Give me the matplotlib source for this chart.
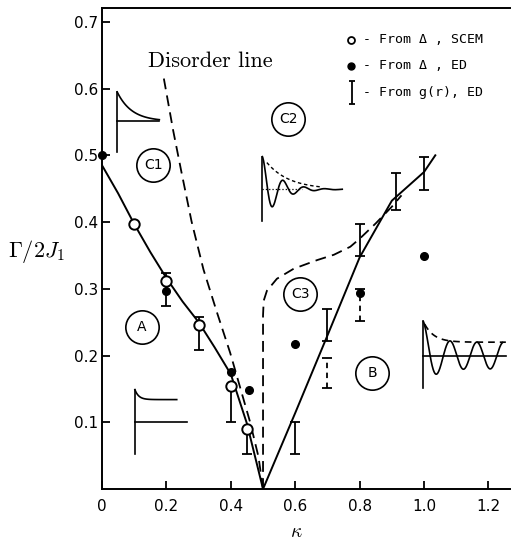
import numpy as np
import matplotlib
matplotlib.use("Agg")
import matplotlib.pyplot as plt

plt.rcParams['font.family'] = ['DejaVu Sans']
plt.rcParams['mathtext.fontset'] = 'cm'

# phase boundaries
left_x = [0.0, 0.05, 0.1, 0.15, 0.2, 0.25, 0.3, 0.35, 0.4, 0.45, 0.5]
left_y = [0.485, 0.443, 0.397, 0.355, 0.316, 0.281, 0.25, 0.212, 0.172, 0.098, 0.0]

right_x = [0.5, 0.6, 0.7, 0.8, 0.9, 1.0, 1.035]
right_y = [0.0, 0.114, 0.23, 0.347, 0.432, 0.475, 0.5]

disorder_x = [0.192, 0.221, 0.247, 0.278, 0.315, 0.356, 0.398, 0.429, 0.46, 0.486, 0.5]
disorder_y = [0.615, 0.537, 0.474, 0.401, 0.329, 0.266, 0.204, 0.152, 0.1, 0.048, 0.0]

c3_x = [0.5, 0.5, 0.502, 0.512, 0.543, 0.595, 0.668, 0.72, 0.771, 0.8, 0.85, 0.9, 0.93]
c3_y = [0.0, 0.26, 0.282, 0.297, 0.315, 0.33, 0.343, 0.351, 0.363, 0.375, 0.398, 0.423, 0.44]

# gap estimates
scem_x = [0.1, 0.2, 0.3, 0.4, 0.45]
scem_y = [0.397, 0.312, 0.246, 0.154, 0.090]

ed_x = [0.0, 0.2, 0.4, 0.455, 0.6, 0.8, 1.0]
ed_y = [0.501, 0.297, 0.175, 0.149, 0.218, 0.293, 0.349]

# g(r) ranges: (kappa, low, high)
gr_solid_x = [0.2, 0.3, 0.4, 0.45, 0.6, 0.7, 0.8, 0.912, 1.0]
gr_solid_lo = [0.274, 0.209, 0.101, 0.053, 0.053, 0.222, 0.349, 0.418, 0.448]
gr_solid_hi = [0.323, 0.257, 0.155, 0.090, 0.100, 0.269, 0.397, 0.473, 0.498]
gr_dash_x = [0.7, 0.8]
gr_dash_lo = [0.152, 0.252]
gr_dash_hi = [0.197, 0.300]

region_names = ['C1', 'C2', 'C3', 'A', 'B']
region_x = [0.159, 0.579, 0.616, 0.123, 0.839]
region_y = [0.486, 0.555, 0.292, 0.243, 0.174]

key_labels = ['- From \u0394 , SCEM', '- From \u0394 , ED', '- From g(r), ED']

xticks = [0, 0.2, 0.4, 0.6, 0.8, 1.0, 1.2]
xtick_labels = ['0', '0.2', '0.4', '0.6', '0.8', '1.0', '1.2']
yticks = [0.1, 0.2, 0.3, 0.4, 0.5, 0.6, 0.7]
ytick_labels = ['0.1', '0.2', '0.3', '0.4', '0.5', '0.6', '0.7']

fig = plt.figure(figsize=(5.24, 5.43), dpi=100)
ax = fig.add_axes([0.1947, 0.0994, 0.778, 0.885])
ax.set_xlim(0, 1.266)
ax.set_ylim(0, 0.72)

lw = 1.4
dash = (6, 3.5)
ax.plot(left_x, left_y, color='k', lw=lw)
ax.plot(right_x, right_y, color='k', lw=lw)
ax.plot(disorder_x, disorder_y, color='k', lw=1.3, ls='--', dashes=dash)
ax.plot(c3_x, c3_y, color='k', lw=1.3, ls='--', dashes=dash)

# error bars from g(r)
for x, lo, hi in zip(gr_solid_x, gr_solid_lo, gr_solid_hi):
    ax.errorbar([x], [(lo + hi) / 2], yerr=[[(hi - lo) / 2], [(hi - lo) / 2]],
                fmt='none', ecolor='k', elinewidth=1.3, capsize=3.5, capthick=1.3)
for x, lo, hi in zip(gr_dash_x, gr_dash_lo, gr_dash_hi):
    eb = ax.errorbar([x], [(lo + hi) / 2], yerr=[[(hi - lo) / 2], [(hi - lo) / 2]],
                     fmt='none', ecolor='k', elinewidth=1.3, capsize=3.5, capthick=1.3)
    eb[2][0].set_linestyle((0, (3, 2.5)))

ax.plot(scem_x, scem_y, 'o', ms=7.5, mfc='white', mec='k', mew=1.4, zorder=5)
ax.plot(ed_x, ed_y, 'o', ms=5.5, color='k', zorder=5, clip_on=False)

# circled region labels
for name, x, y in zip(region_names, region_x, region_y):
    ax.plot(x, y, 'o', ms=24, mfc='white', mec='k', mew=1.2, zorder=4)
    ax.text(x, y, name, ha='center', va='center', fontsize=10, zorder=6)

# small sketches of g(r) in each phase
sk = dict(color='k', lw=1.2)

# C1 corner: monotonic decay
ax.plot([0.047, 0.047], [0.505, 0.595], **sk)
ax.plot([0.047, 0.178], [0.551, 0.551], **sk)
t = np.linspace(0, 0.131, 60)
ax.plot(0.047 + t, 0.551 + 0.044 * np.exp(-t / 0.045), **sk)

# A: long-range order
ax.plot([0.102, 0.102], [0.053, 0.149], **sk)
ax.plot([0.102, 0.265], [0.101, 0.101], **sk)
t = np.linspace(0, 0.13, 60)
ax.plot(0.102 + t, 0.134 + 0.015 * np.exp(-t / 0.012), **sk)

# C2: damped oscillation
ax.plot([0.498, 0.498], [0.401, 0.498], **sk)
ax.plot([0.498, 0.62], [0.449, 0.449], color='k', lw=0.9, ls=':')
t = np.linspace(0, 0.248, 200)
ax.plot(0.498 + t, 0.449 + 0.049 * np.exp(-t / 0.05) * np.cos(2 * np.pi * t / 0.065), **sk)
t = np.linspace(0.014, 0.18, 60)
ax.plot(0.498 + t, 0.449 + 0.049 * np.exp(-t / 0.07), color='k', lw=1.0, ls=(0, (2.5, 2)))

# B: undamped oscillation
ax.plot([0.998, 0.998], [0.152, 0.251], **sk)
ax.plot([0.998, 1.254], [0.2, 0.2], **sk)
t = np.linspace(0, 0.246, 300)
env = 0.02 + 0.031 * np.exp(-t / 0.03)
ax.plot(0.998 + t, 0.2 + env * np.cos(2 * np.pi * t / 0.083), **sk)
t = np.linspace(0.004, 0.256, 80)
ax.plot(0.998 + t, 0.2 + 0.02 + 0.031 * np.exp(-t / 0.03), color='k', lw=1.2,
        ls='--', dashes=(4, 3))

ax.text(0.143, 0.641, 'Disorder line', fontfamily='cmr10', fontsize=16,
        ha='left', va='center')

# key
key_y = [0.935, 0.881, 0.825]
for txt, yy in zip(key_labels, key_y):
    ax.text(0.640, yy, txt, transform=ax.transAxes, fontsize=9.5,
            fontfamily='DejaVu Sans Mono', ha='left', va='center')
ax.plot([0.611], [key_y[0]], 'o', ms=5, mfc='white', mec='k', mew=1.3, transform=ax.transAxes)
ax.plot([0.611], [key_y[1]], 'o', ms=5, color='k', transform=ax.transAxes)
ax.errorbar([0.613], [key_y[2]], yerr=[0.024], fmt='none', ecolor='k', elinewidth=1.3,
            capsize=2.5, capthick=1.3, transform=ax.transAxes)

ax.spines['right'].set_visible(False)
for s in ['left', 'bottom', 'top']:
    ax.spines[s].set_linewidth(1.4)

ax.set_xticks(xticks)
ax.set_xticklabels(xtick_labels)
ax.set_yticks(yticks)
ax.set_yticklabels(ytick_labels)
ax.tick_params(axis='x', direction='in', length=6, width=1.3, labelsize=11, pad=7)
ax.tick_params(axis='y', direction='in', length=6, width=1.3, labelsize=11, pad=3)

fig.text(0.070, 0.5365, r'$\Gamma/2J_1$', fontsize=16, ha='center', va='center')
fig.text(0.566, 0.0203, r'$\kappa$', fontsize=14, ha='center', va='center')

fig.savefig('out.png', dpi=100)
